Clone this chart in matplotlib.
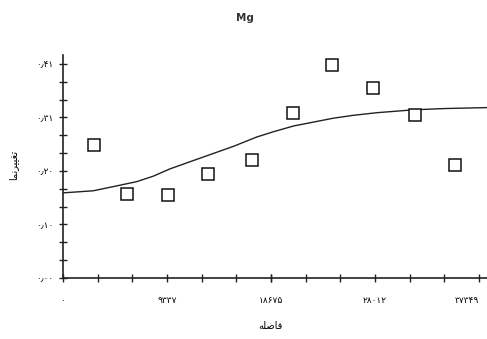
import matplotlib
matplotlib.use("Agg")
import matplotlib.pyplot as plt
import numpy as np

# Experimental variogram points (lag distance, semivariance)
lag = [2810, 5773, 9454, 13045, 16942, 20623, 24125, 27805, 31603, 35195]
gamma = [0.255, 0.161, 0.158, 0.199, 0.226, 0.315, 0.408, 0.363, 0.312, 0.217]

# Fitted model curve
fit_x = [0, 2720, 4516, 6617, 8107, 9607, 12902, 15290, 17391, 18881,
         20677, 24268, 26064, 28165, 31451, 34144, 38060]
fit_y = [0.163, 0.167, 0.175, 0.1845, 0.195, 0.209, 0.234, 0.252, 0.270,
         0.280, 0.291, 0.306, 0.3115, 0.3165, 0.322, 0.3244, 0.3263]

xticks = [0, 9337, 18675, 28012, 37349]
xlabels = ["۰", "۹۳۳۷", "۱۸۶۷۵", "۲۸۰۱۲", "۳۷۳۴۹"]
yticks = [0.0, 0.1025, 0.205, 0.3075, 0.41]
ylabels = ["۰٫۰۰", "۰٫۱۰", "۰٫۲۰", "۰٫۳۱", "۰٫۴۱"]

title = "Mg"
# presentation forms in visual order (no shaping in matplotlib)
xlab = "\uFEEA\uFEE0\uFEBB\uFE8E\uFED3"                    # فاصله
ylab = "\uFE8E\uFEE4\uFEE7\uFEAE\uFEF4\uFEF4\uFED0\uFE97"  # تغییرنما

plt.rcParams['font.family'] = ['DejaVu Sans']

f = plt.figure(figsize=(4.87, 3.39), dpi=100)
ax = f.add_axes([63/487., 1-278/339., 1-63/487., (278-55)/339.])

ax.plot(fit_x, fit_y, color="#222222", lw=1.0)
ax.plot(lag, gamma, linestyle="none", marker="s", ms=8.5, mfc="white",
        mec="#111111", mew=1.1)

ax.set_xlim(0, 38060)
ax.set_ylim(0, 0.427)
ax.set_xticks(xticks)
ax.set_xticklabels(xlabels, fontsize=6.5)
ax.get_xticklabels()[-1].set_ha("right")
ax.set_yticks(yticks)
ax.set_yticklabels(ylabels, fontsize=6.5)
ax.set_xticks(np.arange(0, 38060, 9337.25/3), minor=True)
ax.set_yticks(np.arange(0, 0.427, 0.1025/3), minor=True)
ax.tick_params(which="both", direction="inout", length=6, width=1.0,
               color="#222222")
ax.tick_params(axis="x", which="major", pad=10)
ax.tick_params(axis="y", which="major", pad=4)

for s in ["top", "right"]:
    ax.spines[s].set_visible(False)
for s in ["left", "bottom"]:
    ax.spines[s].set_linewidth(1.2)
    ax.spines[s].set_color("#222222")

f.text(245/487., 1-18/339., title, ha="center", va="center", fontsize=7.5,
       fontweight="bold", color="#333333")
f.text(270/487., 1-326/339., xlab, ha="center", va="center", fontsize=7)
f.text(13/487., 1-165/339., ylab, ha="center", va="center", fontsize=7,
       rotation=90)

f.savefig("out.png", dpi=100)
